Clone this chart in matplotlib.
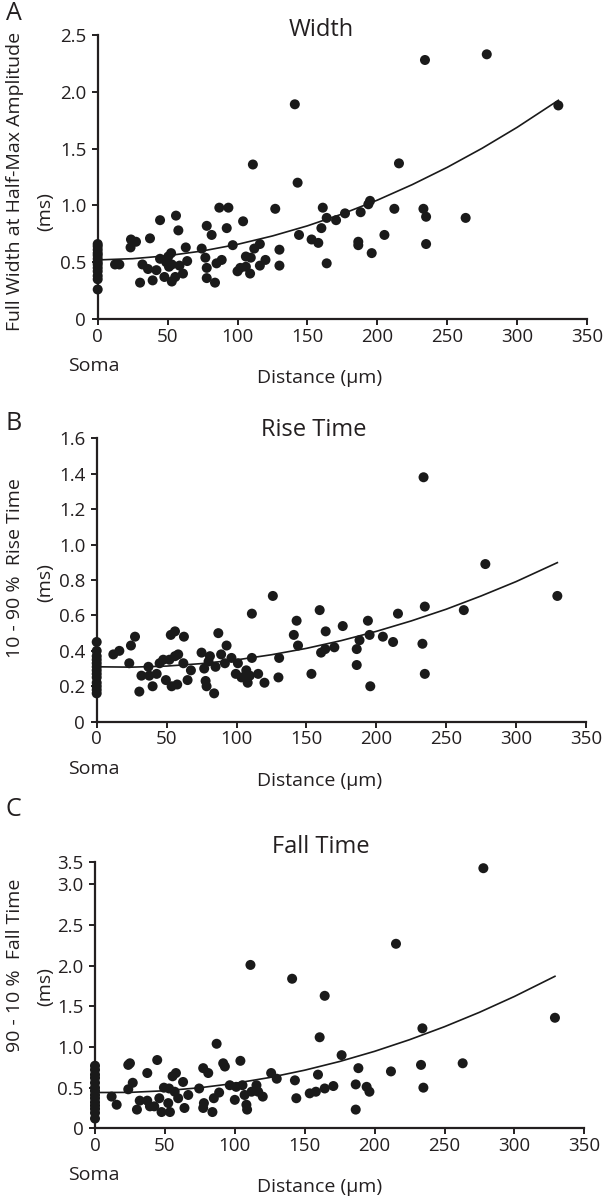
import matplotlib
matplotlib.use("Agg")
import matplotlib.pyplot as plt
import numpy as np

plt.rcParams['font.family'] = ['Open Sans', 'DejaVu Sans']

W, H = 606, 1199

# ---------------- Panel A: Width ----------------
soma_A = [0.66, 0.64, 0.61, 0.58, 0.56, 0.53, 0.50, 0.48, 0.45, 0.42, 0.38, 0.35, 0.26]
dist_A = [12.4, 15.5, 23.8, 23.5, 27.4, 32, 30.3, 36, 37.4, 39.3, 42, 44.6, 44.6, 47.7,
          49, 50.5, 52.5, 51, 53, 53, 55.5, 56, 57.7, 58.5, 61, 63, 64, 74.4, 77, 78,
          78, 78, 81.5, 83.9, 85, 87, 88.7, 92.3, 93.5, 96.6, 100, 102, 104, 106, 106,
          109, 109.5, 111, 112, 116, 116, 120, 127, 130, 130, 141, 143, 144, 153, 157.8,
          160, 161, 163.8, 163.8, 170.5, 176.9, 186.4, 186.4, 188.1, 193.6, 194.8, 196,
          205.1, 212.2, 215.5, 233, 234.1, 234.9, 234.9, 263.2, 278.3, 329.5]
width_A = [0.48, 0.48, 0.70, 0.63, 0.68, 0.48, 0.32, 0.44, 0.71, 0.34, 0.43, 0.87, 0.53, 0.37,
           0.50, 0.55, 0.58, 0.46, 0.48, 0.33, 0.37, 0.91, 0.78, 0.47, 0.40, 0.63, 0.51, 0.62, 0.54, 0.82,
           0.45, 0.36, 0.74, 0.32, 0.49, 0.98, 0.52, 0.80, 0.98, 0.65, 0.42, 0.45, 0.86, 0.55, 0.46,
           0.40, 0.54, 1.36, 0.62, 0.66, 0.47, 0.52, 0.97, 0.61, 0.47, 1.89, 1.20, 0.74, 0.70, 0.67,
           0.80, 0.98, 0.89, 0.49, 0.87, 0.93, 0.68, 0.65, 0.94, 1.01, 1.04, 0.58,
           0.74, 0.97, 1.37, 0.97, 2.28, 0.90, 0.66, 0.89, 2.33, 1.88]
fit_x_A = [0, 25, 50, 75, 100, 125, 150, 175, 200, 225, 250, 275, 300, 329.5]
fit_y_A = [0.520, 0.531, 0.557, 0.599, 0.657, 0.731, 0.820, 0.925, 1.046, 1.183, 1.335, 1.503, 1.687, 1.925]

# ---------------- Panel B: Rise Time ----------------
soma_B = [0.45, 0.40, 0.37, 0.35, 0.33, 0.31, 0.29, 0.27, 0.25, 0.22, 0.20, 0.18, 0.16]
dist_B = [11.9, 16.2, 23.3, 24.5, 27.4, 30.5, 32, 37, 37.6, 40, 42.9, 45, 47.6, 49.5, 52, 53, 56,
          53.6, 57.6, 56, 58.3, 62, 62.4, 65, 67.4, 75, 76.9, 77.9, 78.6, 81, 80, 84, 85, 87, 89,
          92.9, 91.7, 96.4, 99.5, 101, 103.6, 107, 108, 109.5, 111, 111, 115.5, 120, 126, 130.5,
          130, 141, 143, 144, 153.6, 159.5, 160.5, 163.5, 163.8, 170, 176, 186, 186, 188, 194,
          195.2, 195.7, 204.7, 212, 215.5, 233, 233.8, 234.7, 234.7, 262.6, 278, 329.5]
rise_B = [0.38, 0.40, 0.33, 0.43, 0.48, 0.17, 0.26, 0.31, 0.26, 0.20, 0.27, 0.33, 0.35, 0.235, 0.35, 0.49, 0.51,
          0.20, 0.21, 0.37, 0.38, 0.33, 0.48, 0.235, 0.29, 0.39, 0.30, 0.23, 0.20, 0.37, 0.34, 0.16, 0.31, 0.50, 0.38,
          0.43, 0.33, 0.36, 0.27, 0.33, 0.25, 0.29, 0.22, 0.26, 0.61, 0.36, 0.27, 0.22, 0.71, 0.36,
          0.25, 0.49, 0.57, 0.43, 0.27, 0.63, 0.39, 0.41, 0.51, 0.42, 0.54, 0.41, 0.32, 0.46, 0.57,
          0.49, 0.20, 0.48, 0.45, 0.61, 0.44, 1.38, 0.65, 0.27, 0.63, 0.89, 0.71]
fit_x_B = [0, 25, 50, 75, 100, 125, 150, 175, 200, 225, 250, 275, 300, 329.5]
fit_y_B = [0.310, 0.308, 0.314, 0.328, 0.349, 0.378, 0.414, 0.458, 0.510, 0.569, 0.635, 0.710, 0.791, 0.898]

# ---------------- Panel C: Fall Time ----------------
soma_C = [0.77, 0.72, 0.66, 0.62, 0.56, 0.50, 0.46, 0.41, 0.37, 0.32, 0.28, 0.24, 0.19, 0.12]
dist_C = [11.9, 15.5, 23.8, 25, 23.8, 27, 30, 32, 37.4, 37.4, 39.3, 42.4, 44.5, 46, 47.6, 49.3, 53,
          52.4, 53.6, 55.5, 57.9, 57, 59.5, 63, 64, 66.7, 74.5, 77.4, 81, 77.9, 77.4, 84, 85, 87,
          88.8, 91.7, 92.9, 96.4, 100, 101, 104, 105.5, 107, 108.3, 108.8, 111.2, 112, 115.5, 116.7,
          120, 126, 130, 141, 143, 144, 153.6, 158, 160.7, 159.5, 164.3, 164.3, 170.5, 176.4, 186.5,
          186.5, 188.4, 194.3, 196.3, 211.7, 215.3, 233.2, 234.2, 234.9, 263, 277.8, 329]
fall_C = [0.39, 0.29, 0.78, 0.80, 0.48, 0.56, 0.23, 0.34, 0.68, 0.34, 0.27, 0.27, 0.84, 0.37, 0.20, 0.50, 0.49,
          0.31, 0.20, 0.64, 0.68, 0.45, 0.37, 0.57, 0.25, 0.41, 0.49, 0.74, 0.68, 0.31, 0.25, 0.20, 0.37, 1.04,
          0.44, 0.80, 0.76, 0.53, 0.35, 0.51, 0.83, 0.53, 0.41, 0.29, 0.23, 2.01, 0.45, 0.53, 0.45,
          0.39, 0.68, 0.61, 1.84, 0.59, 0.37, 0.43, 0.45, 1.12, 0.66, 1.63, 0.49, 0.52, 0.90, 0.54,
          0.23, 0.74, 0.51, 0.45, 0.70, 2.27, 0.78, 1.23, 0.50, 0.80, 3.20, 1.36]
fit_x_C = [0, 25, 50, 75, 100, 125, 150, 175, 200, 225, 250, 275, 300, 329]
fit_y_C = [0.440, 0.442, 0.462, 0.499, 0.553, 0.625, 0.715, 0.822, 0.947, 1.090, 1.250, 1.427, 1.622, 1.870]

x_ticks = [0, 50, 100, 150, 200, 250, 300, 350]
yt_A = [0, 0.5, 1.0, 1.5, 2.0, 2.5]
yl_A = ["0", "0.5", "1.0", "1.5", "2.0", "2.5"]
yt_B = [0, 0.2, 0.4, 0.6, 0.8, 1.0, 1.2, 1.4, 1.6]
yl_B = ["0", "0.2", "0.4", "0.6", "0.8", "1.0", "1.2", "1.4", "1.6"]
yt_C = [0, 0.5, 1.0, 1.5, 2.0, 2.5, 3.0, 3.28]
yl_C = ["0", "0.5", "1.0", "1.5", "2.0", "2.5", "3.0", "3.5"]

DOT = '#1a1a1a'
TXT = '#231f20'

fig = plt.figure(figsize=(W / 100, H / 100), dpi=100)


def frac_box(left, top, right, bottom):
    return [left / W, 1 - bottom / H, (right - left) / W, (bottom - top) / H]


def ft(x, y, s, **kw):
    kw.setdefault('color', TXT)
    fig.text(x / W, 1 - y / H, s, **kw)


panels = [
    dict(box=(97.7, 35, 587, 319), soma=soma_A, dx=dist_A, dy=width_A, fx=fit_x_A, fy=fit_y_A,
         yt=yt_A, yl=yl_A, ylim=2.5, letter='A', title='Width', tx=321.5, tb=36.5,
         yl1='Full Width at Half-Max Amplitude', y1=181, y2=212, ly=14),
    dict(box=(96.7, 438.3, 586, 721.7), soma=soma_B, dx=dist_B, dy=rise_B, fx=fit_x_B, fy=fit_y_B,
         yt=yt_B, yl=yl_B, ylim=1.6, letter='B', title='Rise Time', tx=313.5, tb=436.5,
         yl1='10 - 90 %  Rise Time', y1=568, y2=583, ly=424),
    dict(box=(95, 861.7, 584.3, 1128.3), soma=soma_C, dx=dist_C, dy=fall_C, fx=fit_x_C, fy=fit_y_C,
         yt=yt_C, yl=yl_C, ylim=3.28, letter='C', title='Fall Time', tx=321, tb=853,
         yl1='90 - 10 %  Fall Time', y1=965, y2=987, ly=810),
]

for p in panels:
    l, t, r, b = p['box']
    ax = fig.add_axes(frac_box(l, t, r, b))
    ax.set_xlim(0, 350)
    ax.set_ylim(0, p['ylim'])
    for s in ['top', 'right']:
        ax.spines[s].set_visible(False)
    for s in ['left', 'bottom']:
        ax.spines[s].set_linewidth(1.6)
        ax.spines[s].set_color('#231f20')
    ax.set_xticks(x_ticks)
    ax.set_xticklabels([str(v) for v in x_ticks])
    ax.set_yticks(p['yt'])
    ax.set_yticklabels(p['yl'])
    ax.tick_params(direction='out', length=4.3, width=1.4, colors='#231f20',
                   labelsize=13.5, labelcolor=TXT)
    ax.tick_params(axis='x', pad=2)
    ax.tick_params(axis='y', pad=4)
    ax.plot(p['fx'], p['fy'], color='#1a1a1a', lw=1.2, zorder=2, clip_on=False)
    ax.scatter([0] * len(p['soma']), p['soma'], s=52, color=DOT, edgecolors='none',
               zorder=3, clip_on=False)
    ax.scatter(p['dx'], p['dy'], s=52, color=DOT, edgecolors='none', zorder=3, clip_on=False)

    ft(p['tx'], p['tb'], p['title'], ha='center', va='baseline', fontsize=17)
    ft(13.5, p['ly'], p['letter'], ha='center', va='center', fontsize=18)
    ft(15, p['y1'], p['yl1'], ha='center', va='center', rotation=90, fontsize=14)
    ft(45, p['y2'], '(ms)', ha='center', va='center', rotation=90, fontsize=14)
    ft(94, b + 52, 'Soma', ha='center', va='baseline', fontsize=14)
    ft(320, b + 64, 'Distance (µm)', ha='center', va='baseline', fontsize=14)

fig.savefig('out.png', dpi=100)
